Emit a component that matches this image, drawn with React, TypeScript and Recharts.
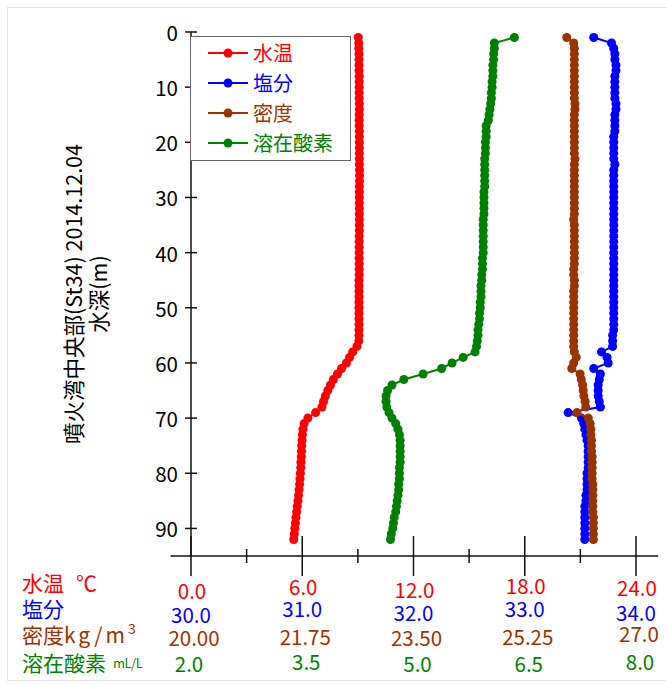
import React from 'react'
import { ScatterChart, Scatter, XAxis, YAxis, Legend, ReferenceLine } from 'recharts'

// depth (m) of every CTD reading
const depths = [
  1, 2, 3, 4, 5, 6, 7, 8, 9, 10, 11, 12, 13, 14, 15, 16, 17, 18, 19, 20,
  21, 22, 23, 24, 25, 26, 27, 28, 29, 30, 31, 32, 33, 34, 35, 36, 37, 38, 39, 40,
  41, 42, 43, 44, 45, 46, 47, 48, 49, 50, 51, 52, 53, 54, 55, 56, 57, 58, 59, 60,
  61, 62, 63, 64, 65, 66, 67, 68, 69, 70, 71, 72, 73, 74, 75, 76, 77, 78, 79, 80,
  81, 82, 83, 84, 85, 86, 87, 88, 89, 90, 91, 92,
]

const waterTemp = [
  9.02, 9.05, 9.05, 9.06, 9.06, 9.06, 9.06, 9.07, 9.07, 9.07,
  9.07, 9.07, 9.08, 9.08, 9.07, 9.07, 9.07, 9.08, 9.08, 9.08,
  9.08, 9.08, 9.08, 9.08, 9.09, 9.09, 9.09, 9.08, 9.08, 9.08,
  9.08, 9.08, 9.08, 9.08, 9.08, 9.08, 9.07, 9.07, 9.07, 9.07,
  9.07, 9.07, 9.07, 9.07, 9.06, 9.06, 9.06, 9.06, 9.06, 9.06,
  9.06, 9.06, 9.06, 9.06, 9.06, 9.05, 8.95, 8.72, 8.55, 8.38,
  8.12, 7.9, 7.68, 7.52, 7.38, 7.25, 7.15, 7.06, 6.72, 6.3,
  6.1, 6.04, 6.01, 5.99, 5.97, 5.96, 5.95, 5.93, 5.92, 5.9,
  5.88, 5.86, 5.83, 5.8, 5.77, 5.73, 5.7, 5.66, 5.63, 5.6,
  5.57, 5.54,
]

const salinity = [
  33.62, 33.78, 33.8, 33.81, 33.81, 33.82, 33.82, 33.81, 33.81, 33.81,
  33.81, 33.81, 33.82, 33.82, 33.81, 33.81, 33.81, 33.81, 33.8, 33.8,
  33.8, 33.8, 33.8, 33.81, 33.8, 33.8, 33.8, 33.8, 33.8, 33.8,
  33.8, 33.8, 33.8, 33.8, 33.8, 33.8, 33.8, 33.8, 33.8, 33.8,
  33.8, 33.8, 33.8, 33.8, 33.8, 33.8, 33.8, 33.8, 33.8, 33.8,
  33.8, 33.8, 33.8, 33.8, 33.79, 33.79, 33.79, 33.69, 33.74, 33.75,
  33.62, 33.68, 33.67, 33.66, 33.66, 33.66, 33.67, 33.68, 33.39, 33.51,
  33.53, 33.54, 33.55, 33.56, 33.57, 33.57, 33.57, 33.57, 33.57, 33.56,
  33.56, 33.56, 33.56, 33.55, 33.55, 33.54, 33.54, 33.54, 33.54, 33.54,
  33.54, 33.54,
]

const density = [
  25.91, 26.02, 26.03, 26.03, 26.03, 26.03, 26.03, 26.03, 26.03, 26.03,
  26.03, 26.03, 26.04, 26.04, 26.03, 26.03, 26.03, 26.03, 26.03, 26.03,
  26.03, 26.03, 26.04, 26.03, 26.03, 26.03, 26.03, 26.03, 26.03, 26.03,
  26.03, 26.03, 26.03, 26.02, 26.03, 26.03, 26.03, 26.03, 26.03, 26.03,
  26.03, 26.03, 26.02, 26.02, 26.03, 26.03, 26.02, 26.02, 26.02, 26.02,
  26.02, 26.02, 26.02, 26.02, 26.02, 26.02, 26.02, 26.03, 26.06, 26.02,
  25.99, 26.12, 26.14, 26.16, 26.17, 26.18, 26.2, 26.21, 26.07, 26.25,
  26.28, 26.29, 26.29, 26.3, 26.3, 26.3, 26.31, 26.31, 26.31, 26.31,
  26.31, 26.32, 26.32, 26.32, 26.32, 26.32, 26.32, 26.33, 26.33, 26.33,
  26.33, 26.33,
]

const oxygen = [
  6.36, 6.09, 6.09, 6.08, 6.08, 6.07, 6.07, 6.07, 6.06, 6.06,
  6.05, 6.05, 6.04, 6.03, 6.02, 6.01, 5.98, 5.98, 5.98, 5.97,
  5.97, 5.97, 5.96, 5.96, 5.96, 5.96, 5.96, 5.96, 5.95, 5.95,
  5.95, 5.95, 5.95, 5.94, 5.94, 5.94, 5.94, 5.94, 5.94, 5.94,
  5.93, 5.93, 5.93, 5.92, 5.92, 5.91, 5.91, 5.91, 5.9, 5.9,
  5.89, 5.89, 5.88, 5.87, 5.87, 5.86, 5.85, 5.83, 5.67, 5.52,
  5.38, 5.13, 4.87, 4.71, 4.65, 4.63, 4.63, 4.64, 4.67, 4.71,
  4.76, 4.79, 4.81, 4.82, 4.82, 4.82, 4.82, 4.82, 4.81, 4.81,
  4.81, 4.8, 4.8, 4.79, 4.78, 4.77, 4.76, 4.74, 4.73, 4.72,
  4.7, 4.69,
]

const depthTicks = [0, 10, 20, 30, 40, 50, 60, 70, 80, 90]
const tempTicks = [0, 3, 6, 9, 12, 15, 18, 21, 24]

const tempLabels = ['0.0', '6.0', '12.0', '18.0', '24.0']
const salinityLabels = ['30.0', '31.0', '32.0', '33.0', '34.0']
const densityLabels = ['20.00', '21.75', '23.50', '25.25', '27.0']
const oxygenLabels = ['2.0', '3.5', '5.0', '6.5', '8.0']

const FONT = '"Noto Sans CJK JP", "Noto Sans", sans-serif'
const RED = '#ff0000'
const BLUE = '#0000ff'
const BROWN = '#993300'
const GREEN = '#008000'

const series = [
  { id: 'temp', name: '水温', color: RED, values: waterTemp, domain: [0, 24] },
  { id: 'sal', name: '塩分', color: BLUE, values: salinity, domain: [30, 34] },
  { id: 'dens', name: '密度', color: BROWN, values: density, domain: [20, 27] },
  { id: 'do', name: '溶在酸素', color: GREEN, values: oxygen, domain: [2, 8] },
]

const scaleRows = [
  { color: RED, labels: tempLabels },
  { color: BLUE, labels: salinityLabels },
  { color: BROWN, labels: densityLabels },
  { color: GREEN, labels: oxygenLabels },
]

// the original labels sit a little unevenly, keep that
const rowY = [
  [34, 29.5, 32.5, 29, 31],
  [57.5, 51.5, 56, 51.5, 55.5],
  [81, 80, 81, 80, 77],
  [106.5, 105, 106.5, 106.5, 105],
]
const rowDx = [1, 0, 3, 4]

function RowTitles({ y }: { y: number }) {
  return (
    <g fontFamily={FONT} fontSize={21} dominantBaseline="central">
      <text x={22} y={y + 26} fill={RED}>
        水温<tspan x={76}>℃</tspan>
      </text>
      <text x={22} y={y + 52} fill={BLUE}>塩分</text>
      <text x={22} y={y + 78} fill={BROWN}>
        密度<tspan letterSpacing={3}>kg/m</tspan>
        <tspan fontSize={14} dy={-6}>3</tspan>
      </text>
      <text x={22} y={y + 106} fill={GREEN}>
        溶在酸素<tspan fontSize={13} dx={7} letterSpacing={-0.5}>mL/L</tspan>
      </text>
    </g>
  )
}

function BottomTick(props: any) {
  const { x, y, index } = props
  const major = index % 2 === 0
  const k = index / 2
  const len = major ? 20 : 7
  return (
    <g>
      <line x1={x} x2={x} y1={y - len} y2={y + len} stroke="#111" strokeWidth={1.5} />
      {major &&
        scaleRows.map((row, r) => (
          <text
            key={r}
            x={x + rowDx[r] - (r === 3 && k === 0 ? 6 : 0)}
            y={y + rowY[r][k]}
            textAnchor="middle"
            dominantBaseline="central"
            fill={row.color}
            fontSize={20.5}
            fontFamily={FONT}
          >
            {row.labels[k]}
          </text>
        ))}
      {index === 0 && <RowTitles y={y} />}
    </g>
  )
}

function DepthTick(props: any) {
  const { x, y, payload } = props
  return (
    <g>
      <line x1={x - 6} x2={x + 6} y1={y} y2={y} stroke="#111" strokeWidth={1.5} />
      <text
        x={x - 13}
        y={y}
        textAnchor="end"
        dominantBaseline="central"
        fontSize={20.5}
        fontFamily={FONT}
        fill="#000"
      >
        {payload.value}
      </text>
    </g>
  )
}

function AxisTitle(props: any) {
  const { viewBox } = props
  const cy = viewBox.y + viewBox.height / 2
  const x1 = viewBox.x - 59
  const x2 = viewBox.x - 34
  return (
    <g fontFamily={FONT} fontSize={21.5} fill="#000">
      <text x={x1} y={cy} textAnchor="middle" dominantBaseline="central" transform={`rotate(-90 ${x1} ${cy})`}>
        噴火湾中央部(St34) 2014.12.04
      </text>
      <text x={x2} y={cy} textAnchor="middle" dominantBaseline="central" transform={`rotate(-90 ${x2} ${cy})`}>
        水深(m)
      </text>
    </g>
  )
}

// legend keeps the order of the series (recharts sorts its payload by name)
function LegendBox() {
  return (
    <div
      style={{
        width: 161,
        height: 125,
        boxSizing: 'border-box',
        border: '1.5px solid #666',
        background: '#fff',
        paddingTop: 1,
      }}
    >
      {series.map((s) => (
        <div key={s.id} style={{ display: 'flex', alignItems: 'center', height: 30 }}>
          <svg width={62} height={30}>
            <line x1={17} x2={57} y1={15} y2={15} stroke={s.color} strokeWidth={2} />
            <circle cx={37} cy={15} r={4.5} fill={s.color} />
          </svg>
          <span style={{ color: s.color, fontSize: 20, fontFamily: FONT, lineHeight: '30px' }}>{s.name}</span>
        </div>
      ))}
    </div>
  )
}

export default function App() {
  return (
    <div style={{ position: 'absolute', left: 0, top: 0, width: 666, height: 684, background: '#fff', overflow: 'hidden' }}>
      <div
        style={{
          position: 'absolute',
          left: 7,
          top: 7,
          width: 680,
          height: 672,
          border: '1px solid #e2e2e2',
        }}
      />
      <ScatterChart width={666} height={684} margin={{ top: 32, right: 30, bottom: 8, left: 131 }}>
        <XAxis
          xAxisId="temp"
          type="number"
          dataKey="value"
          domain={[0, 24]}
          ticks={tempTicks}
          interval={0}
          height={120}
          axisLine={false}
          tickLine={false}
          tickSize={0}
          tickMargin={0}
          tick={<BottomTick />}
        />
        {series.slice(1).map((s) => (
          <XAxis
            key={s.id}
            xAxisId={s.id}
            type="number"
            dataKey="value"
            domain={s.domain}
            orientation="top"
            height={0}
            hide
          />
        ))}
        <YAxis
          type="number"
          dataKey="depth"
          domain={[0, 95]}
          reversed
          ticks={depthTicks}
          interval={0}
          width={60}
          axisLine={{ stroke: '#111', strokeWidth: 1.5 }}
          tickLine={false}
          tickSize={0}
          tickMargin={0}
          tick={<DepthTick />}
          label={<AxisTitle />}
        />
        <ReferenceLine
          xAxisId="temp"
          segment={[
            { x: -1.1, y: 95 },
            { x: 25.2, y: 95 },
          ]}
          stroke="#111"
          strokeWidth={1.5}
          ifOverflow="visible"
        />
        {series.map((s) => (
          <Scatter
            key={s.id}
            name={s.name}
            xAxisId={s.id}
            data={depths.map((d, i) => ({ depth: d, value: s.values[i] }))}
            fill={s.color}
            line={{ stroke: s.color, strokeWidth: 2 }}
            lineType="joint"
            shape="circle"
            isAnimationActive={false}
          />
        ))}
        <Legend
          layout="horizontal"
          verticalAlign="middle"
          align="center"
          content={<LegendBox />}
          wrapperStyle={{ left: 190, top: 36, width: 'auto' }}
        />
      </ScatterChart>
    </div>
  )
}
